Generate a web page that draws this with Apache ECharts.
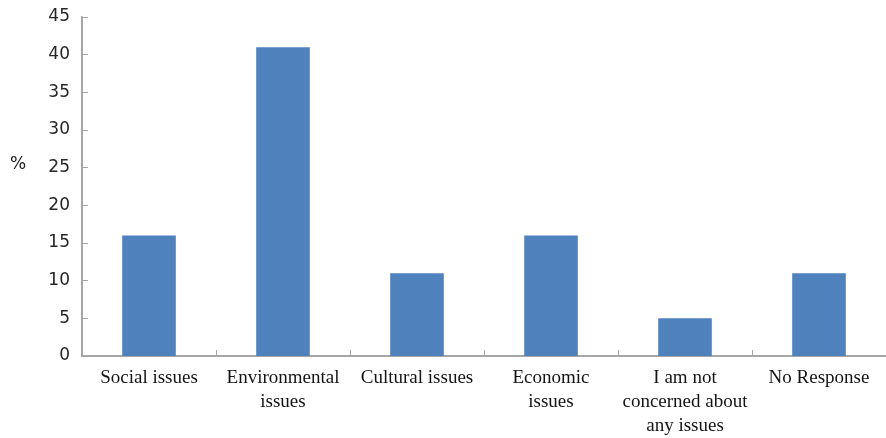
<!DOCTYPE html>
<html>
<head>
<meta charset="utf-8">
<script src="https://cdn.jsdelivr.net/npm/echarts@6/dist/echarts.min.js"></script>
<style>
  html, body { margin: 0; padding: 0; background: #fff; }
  #chart { width: 886px; height: 438px; }
</style>
</head>
<body>
<div id="chart"></div>
<script>
// Survey: which issues respondents are most concerned about
const categories = [
  'Social issues',
  'Environmental\nissues',
  'Cultural issues',
  'Economic\nissues',
  'I am not\nconcerned about\nany issues',
  'No Response'
];
const percentValues = [16, 41, 11, 16, 5, 11];
const yTicks = { min: 0, max: 45, interval: 5 };
const yAxisTitle = '%';

const axisGrey = '#a6a6a6';

const chart = echarts.init(document.getElementById('chart'));
chart.setOption({
  animation: false,
  backgroundColor: '#ffffff',
  grid: { left: 82, right: 0, top: 17, bottom: 82, outerBoundsMode: 'none', containLabel: false },
  graphic: [{
    type: 'text',
    left: 10,
    top: 156,
    style: {
      text: yAxisTitle,
      fill: '#1a1a1a',
      font: '17px "DejaVu Sans", sans-serif'
    }
  }],
  xAxis: {
    type: 'category',
    data: categories,
    axisLine: { lineStyle: { color: axisGrey, width: 2 } },
    axisTick: { show: true, inside: true, alignWithLabel: false, length: 6, lineStyle: { color: axisGrey, width: 1 } },
    axisLabel: {
      interval: 0,
      margin: 10,
      color: '#141414',
      fontFamily: '"Liberation Serif", serif',
      fontSize: 19,
      lineHeight: 24
    }
  },
  yAxis: {
    type: 'value',
    min: yTicks.min,
    max: yTicks.max,
    interval: yTicks.interval,
    splitLine: { show: false },
    axisLine: { show: true, lineStyle: { color: axisGrey, width: 2 } },
    axisTick: { show: true, inside: true, length: 6, lineStyle: { color: axisGrey, width: 1 } },
    axisLabel: {
      margin: 12,
      color: '#262626',
      fontFamily: '"DejaVu Sans", sans-serif',
      fontSize: 17
    }
  },
  series: [{
    type: 'bar',
    data: percentValues,
    barWidth: '40%',
    itemStyle: { color: '#4f81bd' }
  }]
});
</script>
</body>
</html>
